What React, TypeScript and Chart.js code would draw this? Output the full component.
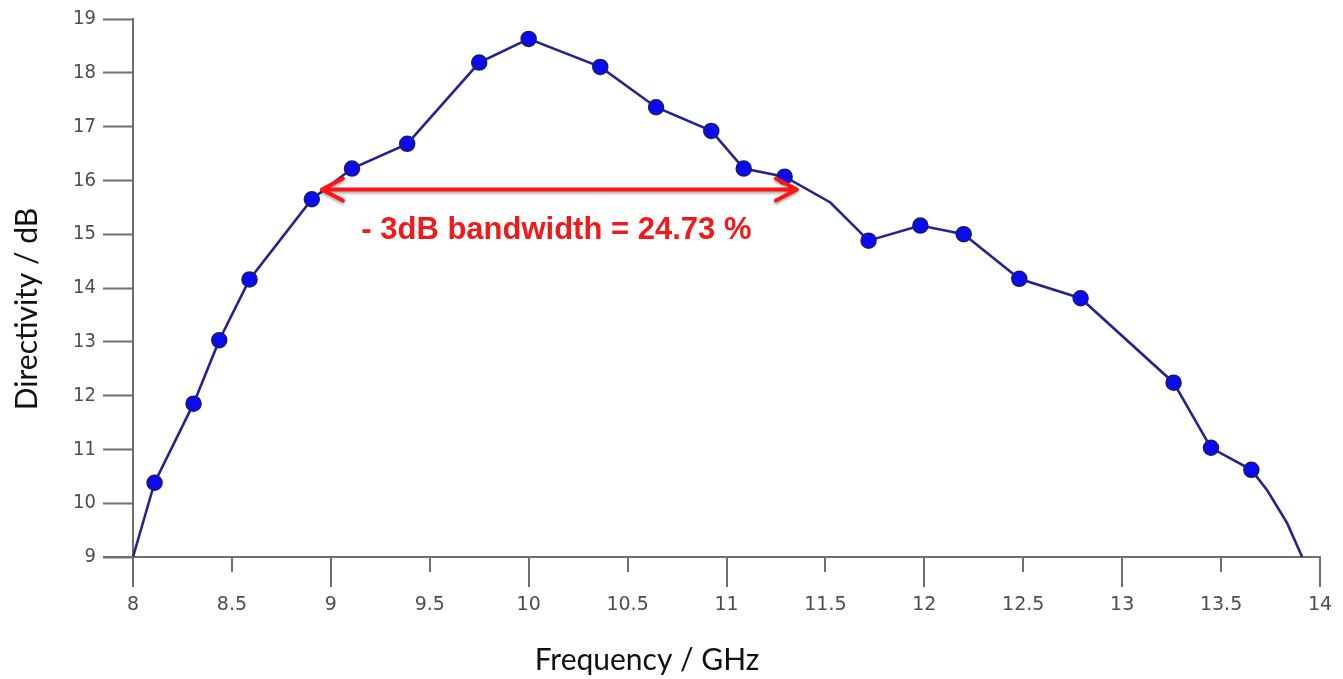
import React, { useEffect, useRef } from "react";
import { Chart, registerables } from "chart.js";

Chart.register(...registerables);

// ---- data ----
const freqGHz = [8.0, 8.109, 8.306, 8.436, 8.589, 8.904, 9.107, 9.386, 9.75, 10.0, 10.362, 10.644, 10.923, 11.087, 11.294, 11.525, 11.718, 11.98, 12.199, 12.48, 12.79, 13.26, 13.449, 13.653, 13.733, 13.834, 13.91];
const directivityDb = [9.0, 10.38, 11.85, 13.03, 14.16, 15.65, 16.22, 16.68, 18.19, 18.63, 18.11, 17.36, 16.92, 16.22, 16.07, 15.59, 14.88, 15.16, 15.0, 14.17, 13.81, 12.24, 11.03, 10.62, 10.24, 9.63, 9.0];
const hasMarker = [false, true, true, true, true, true, true, true, true, true, true, true, true, true, true, false, true, true, true, true, true, true, true, true, false, false, false];

const xTickValues = [8, 8.5, 9, 9.5, 10, 10.5, 11, 11.5, 12, 12.5, 13, 13.5, 14];
const yTickValues = [9, 10, 11, 12, 13, 14, 15, 16, 17, 18, 19];

const xTitle = "Frequency / GHz";
const yTitle = "Directivity / dB";

const bandwidthArrowX = [8.955, 11.356];
const bandwidthArrowY = 15.83;
const bandwidthLabel = "- 3dB bandwidth = 24.73 %";
const bandwidthLabelPos = [10.14, 15.07];

const AXIS = "#6e6e6e";

const overlayPlugin = {
  id: "overlay",
  afterDraw(chart: any) {
    const ctx = chart.ctx as CanvasRenderingContext2D;
    const xs = chart.scales.x;
    const ys = chart.scales.y;
    const area = chart.chartArea;
    ctx.save();
    // axis extension and x ticks
    ctx.strokeStyle = AXIS;
    ctx.lineWidth = 2;
    ctx.beginPath();
    ctx.moveTo(area.left - 30, area.bottom);
    ctx.lineTo(area.left, area.bottom);
    xTickValues.forEach((v) => {
      const px = Math.round(xs.getPixelForValue(v));
      const major = Math.abs(v - Math.round(v)) < 1e-6;
      ctx.moveTo(px, area.bottom);
      ctx.lineTo(px, area.bottom + (major ? 30 : 15));
    });
    ctx.stroke();

    // red double arrow
    const x1 = xs.getPixelForValue(bandwidthArrowX[0]);
    const x2 = xs.getPixelForValue(bandwidthArrowX[1]);
    const ay = ys.getPixelForValue(bandwidthArrowY);
    ctx.shadowColor = "rgba(0,0,0,0.35)";
    ctx.shadowBlur = 3;
    ctx.shadowOffsetY = 2;
    ctx.strokeStyle = "#ff1414";
    ctx.lineWidth = 4;
    ctx.lineCap = "round";
    ctx.lineJoin = "round";
    ctx.beginPath();
    ctx.moveTo(x1 + 2, ay);
    ctx.lineTo(x2 - 2, ay);
    ctx.moveTo(x1 + 21, ay - 11);
    ctx.lineTo(x1, ay);
    ctx.lineTo(x1 + 21, ay + 11);
    ctx.moveTo(x2 - 21, ay - 11);
    ctx.lineTo(x2, ay);
    ctx.lineTo(x2 - 21, ay + 11);
    ctx.stroke();
    ctx.shadowColor = "transparent";
    ctx.shadowBlur = 0;
    ctx.shadowOffsetY = 0;

    // label
    ctx.fillStyle = "#f01a1a";
    ctx.font = "bold 31px 'Liberation Sans', Arial, sans-serif";
    ctx.textAlign = "center";
    ctx.textBaseline = "middle";
    ctx.fillText(bandwidthLabel, xs.getPixelForValue(bandwidthLabelPos[0]), ys.getPixelForValue(bandwidthLabelPos[1]));

    // axis titles
    ctx.fillStyle = "#111";
    ctx.font = "30px Lato, 'Open Sans', sans-serif";
    ctx.fillText(xTitle, 647, 660);
    ctx.translate(27, 309);
    ctx.rotate(-Math.PI / 2);
    ctx.fillText(yTitle, 0, 0);
    ctx.restore();
  },
};

export default function App() {
  const canvasRef = useRef<HTMLCanvasElement | null>(null);

  useEffect(() => {
    if (!canvasRef.current) return;
    const chart = new Chart(canvasRef.current, {
      type: "line",
      data: {
        datasets: [
          {
            label: "Directivity",
            data: freqGHz.map((f, i) => ({ x: f, y: directivityDb[i] })),
            borderColor: "#24248c",
            borderWidth: 2.6,
            backgroundColor: "#0a0af5",
            pointBackgroundColor: "#0a0af5",
            pointBorderColor: "#1a1a66",
            pointBorderWidth: 1.5,
            pointRadius: hasMarker.map((m) => (m ? 7.5 : 0)),
            pointHoverRadius: hasMarker.map((m) => (m ? 7.5 : 0)),
            tension: 0,
            clip: false as any,
          },
        ],
      },
      options: {
        animation: false,
        responsive: true,
        maintainAspectRatio: false,
        layout: { padding: { left: 0, top: 15, right: 23, bottom: 0 } },
        plugins: { legend: { display: false }, tooltip: { enabled: false } },
        scales: {
          x: {
            type: "linear",
            min: 8,
            max: 14,
            afterBuildTicks: (scale: any) => {
              scale.ticks = xTickValues.map((v) => ({ value: v }));
            },
            afterFit: (scale: any) => {
              scale.height = 122;
            },
            ticks: {
              autoSkip: false,
              maxRotation: 0,
              padding: 7,
              color: "#4d4d4d",
              font: { family: "'DejaVu Sans', Verdana, sans-serif", size: 19 },
              callback: (v: any) => String(v),
            },
            grid: { display: true, drawOnChartArea: false, drawTicks: true, tickLength: 30, tickColor: "transparent" },
            border: { display: true, color: AXIS, width: 2 },
          },
          y: {
            type: "linear",
            min: 9,
            max: 19,
            afterBuildTicks: (scale: any) => {
              scale.ticks = yTickValues.map((v) => ({ value: v }));
            },
            afterFit: (scale: any) => {
              scale.width = 133;
            },
            ticks: {
              autoSkip: false,
              padding: 7,
              color: "#4d4d4d",
              font: { family: "'DejaVu Sans Condensed', 'Liberation Sans Narrow', 'Liberation Sans', Arial, sans-serif", size: 20 },
              callback: (v: any) => String(v),
            },
            grid: { display: true, drawOnChartArea: false, drawTicks: true, tickLength: 30, tickColor: AXIS, tickWidth: 2 },
            border: { display: true, color: AXIS, width: 2 },
          },
        },
      },
      plugins: [overlayPlugin],
    });
    return () => chart.destroy();
  }, []);

  return (
    <div style={{ position: "fixed", left: 0, top: 0, width: 1343, height: 679, background: "#fff" }}>
      <canvas ref={canvasRef} />
    </div>
  );
}
